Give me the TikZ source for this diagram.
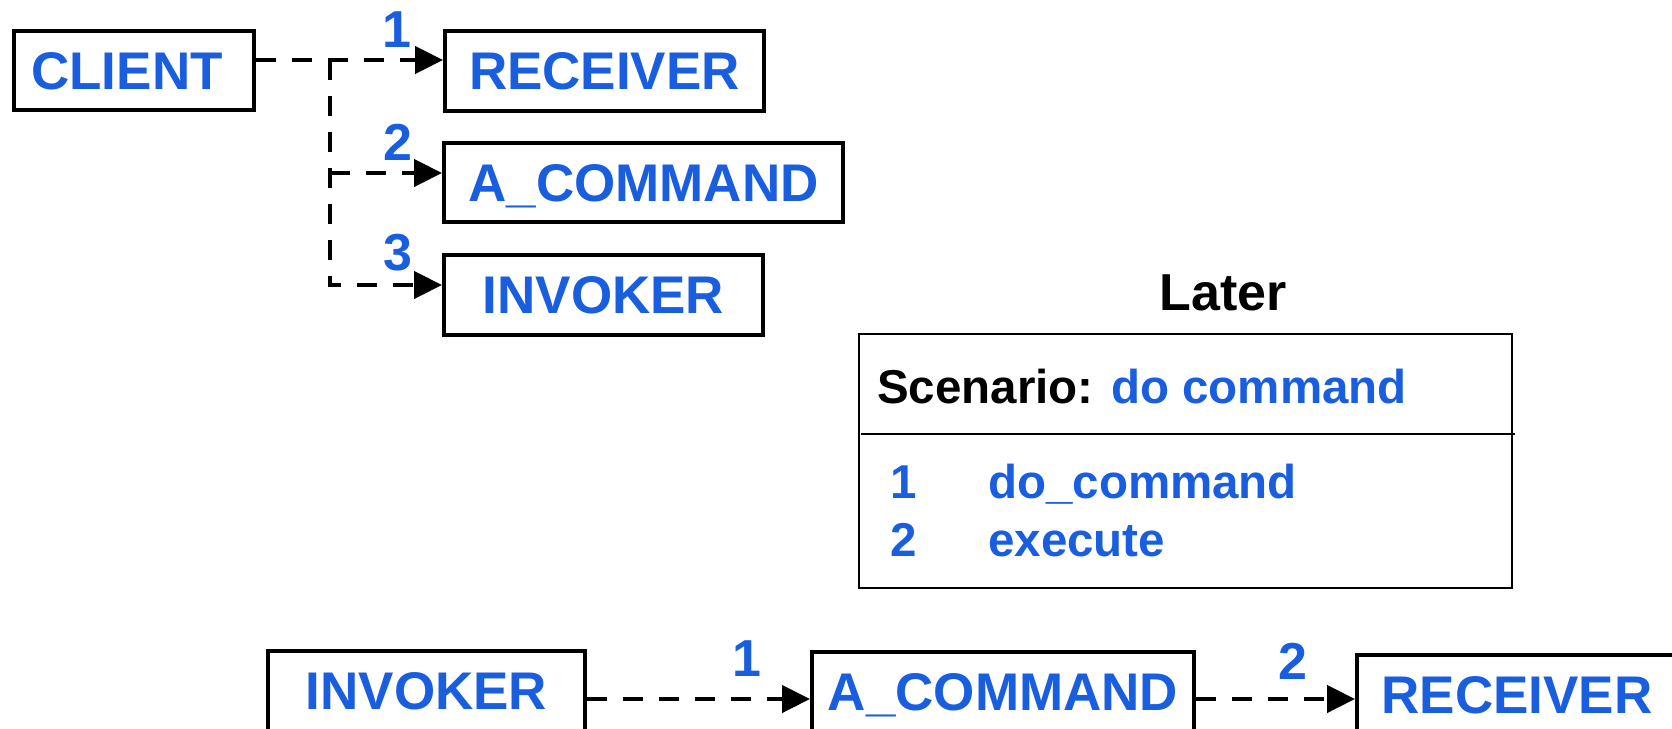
\documentclass[tikz,border=0pt]{standalone}
\usepackage{fontspec}
\setmainfont{Liberation Sans}
\usetikzlibrary{arrows.meta}
\definecolor{labelblue}{RGB}{26,94,224}
\tikzset{
  box/.style={draw, line width=4pt, inner sep=0pt, text height=37.9pt, text depth=0pt,
    font=\fontsize{53}{60}\selectfont\bfseries, text=labelblue},
  num/.style={inner sep=0pt, text height=37.4pt, text depth=0pt,
    font=\fontsize{52}{60}\selectfont\bfseries, text=labelblue},
  flow/.style={line width=4.5pt, dash pattern=on 20pt off 16pt,
    -{Triangle[length=28pt,width=27pt]}},
  scentext/.style={inner sep=0pt, anchor=base west, font=\fontsize{47.5}{56}\selectfont\bfseries},
}
\begin{document}
\begin{tikzpicture}[x=1pt,y=-1pt]
\useasboundingbox (0,0) rectangle (1672,728);

% creation sequence
\node[box, minimum width=240pt, minimum height=79pt] (client) at (134,70.5) {CLIENT\hspace*{14pt}};
\node[box, minimum width=319pt, minimum height=80pt] (recv) at (604.5,71) {RECEIVER};
\node[box, minimum width=399pt, minimum height=79pt] (acmd) at (643.5,182.5) {A\_COMMAND};
\node[box, minimum width=319pt, minimum height=80pt] (invk) at (603.5,295) {INVOKER};

\coordinate (tee) at (330,60);
\coordinate (br2) at (330,173);
\coordinate (br3) at (330,285);
\draw[flow] (client.east |- tee) -- (recv.west |- tee);
\draw[flow] (tee) |- (invk.west |- br3);
\draw[flow] (br2) -- (acmd.west |- br2);

\node[num] (n1) at (397,28.5) {1};
\node[num] (n2) at (398,141.5) {2};
\node[num] (n3) at (398,251.5) {3};

% scenario legend
\node[inner sep=0pt, anchor=base, font=\fontsize{52}{60}\selectfont\bfseries] (later) at (1223,310) {Later};
\node[draw, line width=2.5pt, inner sep=0pt, minimum width=653pt, minimum height=254pt] (scen) at (1185.5,461) {};
\coordinate (divl) at (861,434);
\coordinate (divr) at (1515,434);
\draw[line width=2.5pt] (divl) -- (divr);
\node[scentext] (title) at (877,403) {Scenario: \textcolor{labelblue}{do command}};
\node[scentext, text=labelblue] (s1n) at (890,498) {1};
\node[scentext, text=labelblue] (s1t) at (988,498) {do\_command};
\node[scentext, text=labelblue] (s2n) at (890,556) {2};
\node[scentext, text=labelblue] (s2t) at (988,556) {execute};

% later sequence
\node[box, minimum width=317pt, minimum height=80pt] (invk2) at (426.5,691) {INVOKER};
\node[box, minimum width=382pt, minimum height=80pt] (acmd2) at (1003,692) {A\_COMMAND};
\node[box, minimum width=320pt, minimum height=80pt] (recv2) at (1517,695) {RECEIVER};

\coordinate (row) at (0,699);
\draw[flow] (invk2.east |- row) -- (acmd2.west |- row);
\draw[flow] (acmd2.east |- row) -- (recv2.west |- row);

\node[num] (m1) at (747,658) {1};
\node[num] (m2) at (1293,661) {2};
\end{tikzpicture}
\end{document}
